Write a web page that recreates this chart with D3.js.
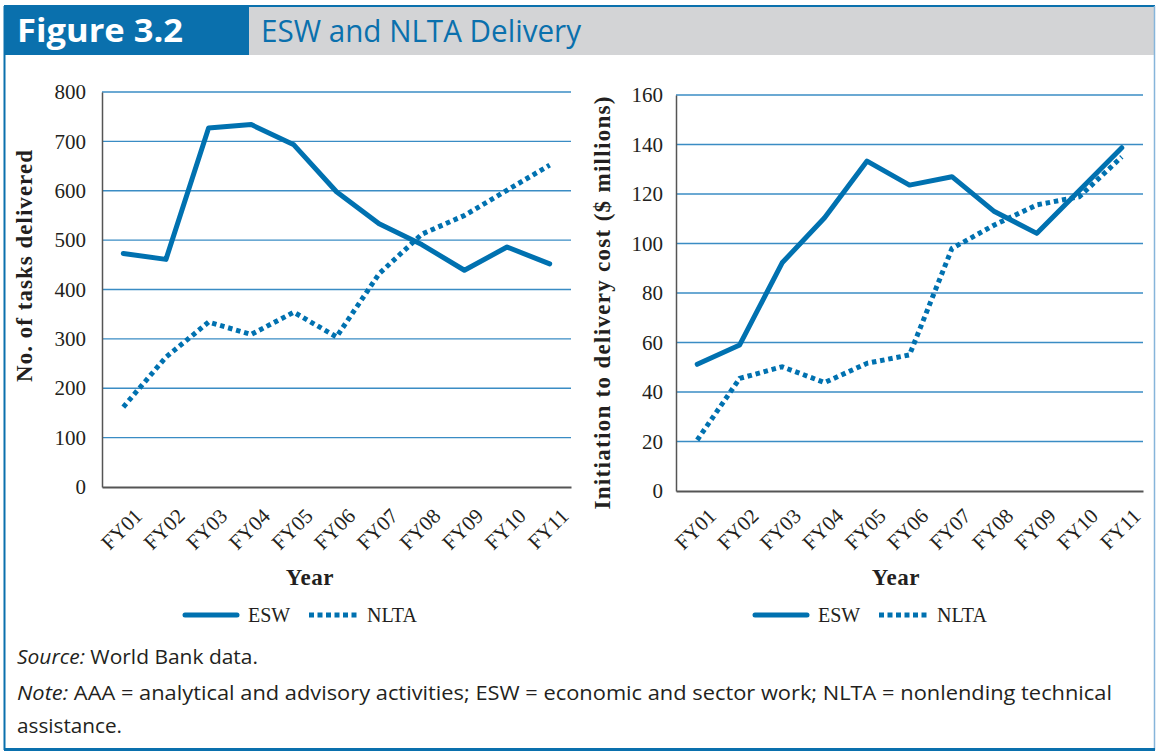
<!DOCTYPE html>
<html lang="en">
<head>
<meta charset="utf-8">
<title>Figure 3.2</title>
<script src="https://cdn.jsdelivr.net/npm/d3@7"></script>
<style>
  body { margin: 0; background: #fff; }
  .serif { font-family: "Liberation Serif", "Times New Roman", serif; fill: #231f20; }
  .sans { font-family: "Open Sans", "Noto Sans", sans-serif; fill: #231f20; }
</style>
</head>
<body>
<script>
// ---- data ----
var years = ["FY01","FY02","FY03","FY04","FY05","FY06","FY07","FY08","FY09","FY10","FY11"];
var tasksESW  = [473, 461, 727, 734, 693, 598, 533, 491, 439, 486, 452];
var tasksNLTA = [162, 263, 334, 309, 354, 304, 432, 512, 550, 601, 652];
var costESW   = [51.2, 59, 92.2, 110.4, 133.3, 123.6, 127, 112.9, 104.1, 121.4, 138.7];
var costNLTA  = [20.6, 45.5, 50.2, 43.8, 51.6, 55, 98, 107.5, 115.6, 118.9, 135];
var tasksTicks = [0, 100, 200, 300, 400, 500, 600, 700, 800];
var costTicks  = [0, 20, 40, 60, 80, 100, 120, 140, 160];

var W = 1156, H = 752;
var blue = "#0a70ad", lineBlue = "#0071b0", gridBlue = "#3a8cc4";

var svg = d3.select("body").append("svg")
  .attr("width", W).attr("height", H);

// frame + header
svg.append("rect").attr("x", 4).attr("y", 6).attr("width", 245).attr("height", 49).attr("fill", blue);
svg.append("rect").attr("x", 249).attr("y", 6).attr("width", 905).attr("height", 49).attr("fill", "#d3d4d6");
svg.append("line").attr("x1", 4).attr("x2", 1155).attr("y1", 6).attr("y2", 6).attr("stroke", blue).attr("stroke-width", 2);
svg.append("line").attr("x1", 4.5).attr("x2", 4.5).attr("y1", 6).attr("y2", 750).attr("stroke", blue).attr("stroke-width", 2);
svg.append("line").attr("x1", 1154.5).attr("x2", 1154.5).attr("y1", 6).attr("y2", 750).attr("stroke", "#86b5da").attr("stroke-width", 1.5);
svg.append("line").attr("x1", 4).attr("x2", 1155).attr("y1", 749.5).attr("y2", 749.5).attr("stroke", blue).attr("stroke-width", 3);

svg.append("text").attr("class", "sans")
  .attr("x", 17).attr("y", 42)
  .attr("textLength", 166).attr("lengthAdjust", "spacingAndGlyphs")
  .style("fill", "#fff").style("font-weight", "bold").style("font-size", "32px")
  .text("Figure 3.2");
svg.append("text").attr("class", "sans")
  .attr("x", 261).attr("y", 42)
  .attr("textLength", 320).attr("lengthAdjust", "spacingAndGlyphs")
  .style("fill", blue).style("font-size", "31px")
  .text("ESW and NLTA Delivery");

function panel(cfg) {
  var x = d3.scaleBand().domain(years).range(cfg.xr);
  var y = d3.scaleLinear().domain([0, cfg.ticks[cfg.ticks.length - 1]]).range(cfg.yr);
  var g = svg.append("g");

  // grid
  g.selectAll(".grid").data(cfg.ticks.slice(1)).enter().append("line")
    .attr("x1", cfg.xr[0]).attr("x2", cfg.xr[1])
    .attr("y1", function(d) { return y(d); }).attr("y2", function(d) { return y(d); })
    .attr("stroke", gridBlue).attr("stroke-width", 1.3);

  // y axis
  var ya = g.append("g").attr("transform", "translate(" + cfg.xr[0] + ",0)")
    .call(d3.axisLeft(y).tickValues(cfg.ticks).tickSize(0).tickPadding(cfg.pad));
  ya.select(".domain").attr("stroke", "#555").attr("stroke-width", 1.5);
  ya.selectAll("text").attr("fill", "#231f20")
    .style("font-size", "21px").style("font-family", "Liberation Serif, serif");

  // x axis
  var xa = g.append("g").attr("transform", "translate(0," + cfg.yr[0] + ")")
    .call(d3.axisBottom(x).tickSize(0));
  xa.select(".domain").attr("stroke", "#555").attr("stroke-width", 2);
  xa.selectAll("text")
    .attr("y", 0).attr("dy", "0.35em")
    .attr("transform", "translate(15," + cfg.lab + ") rotate(-45)")
    .style("text-anchor", "end").attr("fill", "#231f20")
    .style("font-size", "21px").style("font-family", "Liberation Serif, serif");
  svg.selectAll(".tick line").remove();

  var cx = function(d, i) { return x(years[i]) + x.bandwidth() / 2; };
  var line = d3.line().x(cx).y(function(d) { return y(d); });

  g.append("path").datum(cfg.nlta).attr("d", line)
    .attr("fill", "none").attr("stroke", lineBlue).attr("stroke-width", 5)
    .attr("stroke-dasharray", "4.5,3.8");
  g.append("path").datum(cfg.esw).attr("d", line)
    .attr("fill", "none").attr("stroke", lineBlue).attr("stroke-width", 5)
    .attr("stroke-linecap", "round").attr("stroke-linejoin", "round");

  // axis titles
  g.append("text").attr("class", "serif")
    .attr("transform", "translate(" + cfg.yt[0] + "," + cfg.yt[1] + ") rotate(-90)")
    .attr("text-anchor", "middle").attr("textLength", cfg.ylen).attr("lengthAdjust", "spacing")
    .style("font-weight", "bold").style("font-size", "23px")
    .text(cfg.ytitle);
  g.append("text").attr("class", "serif")
    .attr("x", cfg.xt).attr("y", 585)
    .attr("text-anchor", "middle").style("font-weight", "bold").style("font-size", "23px")
    .style("letter-spacing", "0.6px")
    .text("Year");

  // legend
  var lx = cfg.leg;
  g.append("line").attr("x1", lx).attr("x2", lx + 52).attr("y1", 615).attr("y2", 615)
    .attr("stroke", lineBlue).attr("stroke-width", 5).attr("stroke-linecap", "round");
  g.append("text").attr("class", "serif").attr("x", lx + 63).attr("y", 622)
    .style("font-size", "20px").text("ESW");
  g.append("line").attr("x1", lx + 124).attr("x2", lx + 172).attr("y1", 615).attr("y2", 615)
    .attr("stroke", lineBlue).attr("stroke-width", 5).attr("stroke-dasharray", "5,3.5");
  g.append("text").attr("class", "serif").attr("x", lx + 182).attr("y", 622)
    .style("font-size", "20px").text("NLTA");
}

panel({
  xr: [102, 571], yr: [487, 92], ticks: tasksTicks, pad: 16, lab: 25,
  esw: tasksESW, nlta: tasksNLTA,
  ytitle: "No. of tasks delivered", yt: [32, 266], ylen: 232, xt: 310, leg: 185
});
panel({
  xr: [676, 1143], yr: [491, 95], ticks: costTicks, pad: 13, lab: 21,
  esw: costESW, nlta: costNLTA,
  ytitle: "Initiation to delivery cost ($ millions)", yt: [610, 303], ylen: 413, xt: 896, leg: 755
});

// footer
var src = svg.append("text").attr("class", "sans").attr("x", 17).attr("y", 664)
  .attr("textLength", 241).attr("lengthAdjust", "spacingAndGlyphs")
  .style("font-size", "19.5px");
src.append("tspan").style("font-style", "italic").text("Source:");
src.append("tspan").text(" World Bank data.");

var note = svg.append("text").attr("class", "sans").attr("x", 17).attr("y", 700)
  .attr("textLength", 1095).attr("lengthAdjust", "spacingAndGlyphs")
  .style("font-size", "19.5px");
note.append("tspan").style("font-style", "italic").text("Note:");
note.append("tspan").text(" AAA = analytical and advisory activities; ESW = economic and sector work; NLTA = nonlending technical");
svg.append("text").attr("class", "sans").attr("x", 17).attr("y", 733)
  .attr("textLength", 105).attr("lengthAdjust", "spacingAndGlyphs")
  .style("font-size", "19.5px").text("assistance.");
</script>
</body>
</html>
